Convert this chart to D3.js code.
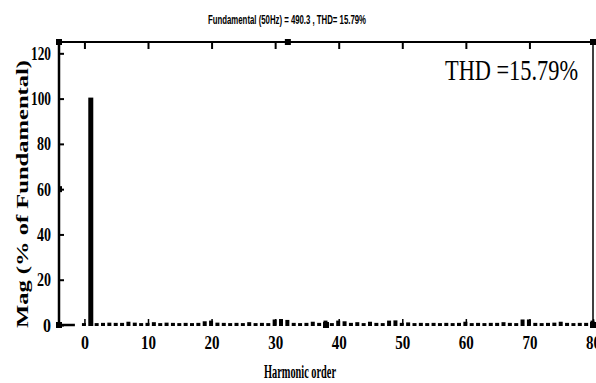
<!DOCTYPE html>
<html>
<head>
<meta charset="utf-8">
<script src="https://cdn.jsdelivr.net/npm/d3@7"></script>
<style>
  body { margin: 0; background: #fff; }
  text { font-family: "Liberation Serif", "DejaVu Serif", serif; font-weight: bold; fill: #000; }
</style>
</head>
<body>
<div id="chart"></div>
<script>
// harmonic orders and magnitude (% of fundamental)
var orders = d3.range(0, 81);
var mags = [0.4, 100, 0.4, 0.5, 0.6, 0.5, 0.5, 1.0, 0.6, 0.4,
            0.5, 0.8, 0.4, 0.6, 0.5, 0.4, 0.5, 0.4, 0.5, 1.2,
            1.5, 0.6, 0.5, 0.4, 0.5, 0.4, 0.8, 0.4, 0.5, 0.4,
            2.0, 2.2, 1.8, 0.5, 0.4, 0.5, 1.0, 0.5, 1.5, 0.4,
            1.5, 1.2, 0.5, 0.8, 0.4, 1.0, 0.5, 0.4, 1.5, 1.6,
            0.5, 0.7, 0.4, 0.5, 0.4, 0.5, 0.4, 0.5, 0.4, 0.5,
            1.0, 0.4, 0.5, 0.4, 0.5, 0.5, 0.8, 0.5, 0.4, 2.0,
            2.0, 0.5, 0.4, 0.5, 0.6, 1.0, 0.5, 0.4, 0.5, 0.5, 1.5];
var xTicks = [0, 10, 20, 30, 40, 50, 60, 70, 80];
var yTicks = [0, 20, 40, 60, 80, 100, 120];
var title = "Fundamental (50Hz) = 490.3 , THD= 15.79%";
var thdText = "THD =15.79%";

var width = 596, height = 383;
var mLeft = 59, mRight = 593, mTop = 42, mBottom = 325;

var svg = d3.select("#chart").append("svg")
    .attr("width", width)
    .attr("height", height);

var x = d3.scaleLinear().domain([-4, 80]).range([mLeft, mRight]);
var y = d3.scaleLinear().domain([0, 125]).range([mBottom, mTop]);

// bars
svg.append("g")
  .selectAll("rect")
  .data(orders)
  .join("rect")
    .attr("x", function (d) { return x(d) - 2.5; })
    .attr("width", function (d) { return mags[d] > 50 ? 5 : 4; })
    .attr("y", function (d) { return y(mags[d]) - 1; })
    .attr("height", function (d) { return y(0) - y(mags[d]) + 2; })
    .attr("fill", "#000");

// frame lines
svg.append("line").attr("x1", mLeft).attr("x2", mRight).attr("y1", mTop).attr("y2", mTop)
    .attr("stroke", "#000").attr("stroke-width", 2);
svg.append("line").attr("x1", mLeft).attr("x2", mLeft).attr("y1", mTop).attr("y2", mBottom)
    .attr("stroke", "#000").attr("stroke-width", 2.5);
svg.append("line").attr("x1", mRight).attr("x2", mRight).attr("y1", mTop).attr("y2", mBottom)
    .attr("stroke", "#000").attr("stroke-width", 1.5);
svg.append("line").attr("x1", mLeft).attr("x2", x(-1.5)).attr("y1", mBottom).attr("y2", mBottom)
    .attr("stroke", "#000").attr("stroke-width", 2.5);

// left axis
var yAxis = svg.append("g")
    .attr("transform", "translate(" + mLeft + ",0)")
    .call(d3.axisLeft(y).tickValues(yTicks).tickSizeInner(-5).tickSizeOuter(0).tickPadding(8));
yAxis.select(".domain").remove();
yAxis.selectAll(".tick line").attr("stroke-width", 2);
yAxis.selectAll("text").style("font-size", "19px")
    .attr("lengthAdjust", "spacingAndGlyphs")
    .attr("textLength", function (d) { return d >= 100 ? 20 : (d === 0 ? 8 : 14); });

// bottom axis
var xAxis = svg.append("g")
    .attr("transform", "translate(0," + mBottom + ")")
    .call(d3.axisBottom(x).tickValues(xTicks).tickSizeInner(-6).tickSizeOuter(0).tickPadding(11));
xAxis.select(".domain").remove();
xAxis.selectAll(".tick line").attr("stroke-width", 1.5);
xAxis.selectAll("text").style("font-size", "19px")
    .attr("lengthAdjust", "spacingAndGlyphs")
    .attr("textLength", function (d) { return d === 0 ? 8 : 15; });

// top axis (ticks only)
var tAxis = svg.append("g")
    .attr("transform", "translate(0," + mTop + ")")
    .call(d3.axisTop(x).tickValues(xTicks.slice(0, 8)).tickSizeInner(-7).tickSizeOuter(0).tickFormat(""));
tAxis.select(".domain").remove();
tAxis.selectAll(".tick line").attr("stroke-width", 2);

// corner markers
var marks = [[mLeft, mTop], [x(32), mTop], [mRight, mTop], [mLeft, mBottom], [mRight, mBottom], [x(38), mBottom]];
svg.append("g").selectAll("rect").data(marks).join("rect")
    .attr("x", function (d) { return d[0] - 3; })
    .attr("y", function (d) { return d[1] - 3; })
    .attr("width", 6).attr("height", 6)
    .attr("fill", "#000");
svg.append("rect").attr("x", mLeft).attr("y", y(60) - 3).attr("width", 3).attr("height", 6).attr("fill", "#000");

// title
svg.append("text")
    .attr("x", 287).attr("y", 24)
    .attr("text-anchor", "middle")
    .attr("textLength", 158)
    .attr("lengthAdjust", "spacingAndGlyphs")
    .style("font-family", "'Liberation Sans', sans-serif")
    .style("font-size", "13px")
    .text(title);

// THD annotation
svg.append("text")
    .attr("x", 445).attr("y", 80)
    .attr("textLength", 133)
    .attr("lengthAdjust", "spacingAndGlyphs")
    .style("font-weight", "normal")
    .style("font-size", "29px")
    .text(thdText);

// axis titles
svg.append("text")
    .attr("x", 300).attr("y", 378)
    .attr("text-anchor", "middle")
    .attr("textLength", 72)
    .attr("lengthAdjust", "spacingAndGlyphs")
    .style("font-size", "18px")
    .text("Harmonic order");

svg.append("text")
    .attr("transform", "translate(28,194) rotate(-90)")
    .attr("text-anchor", "middle")
    .attr("textLength", 268)
    .attr("lengthAdjust", "spacingAndGlyphs")
    .style("font-size", "17px")
    .text("Mag (% of Fundamental)");
</script>
</body>
</html>
